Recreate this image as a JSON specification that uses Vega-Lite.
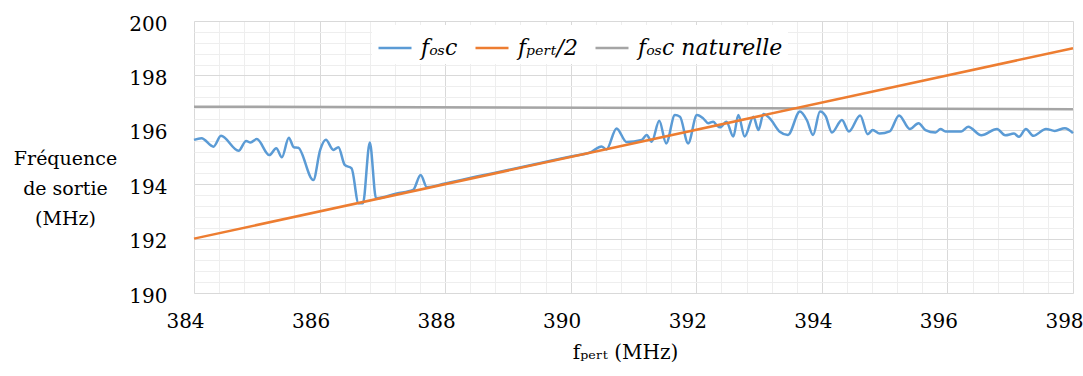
{
  "$schema": "https://vega.github.io/schema/vega-lite/v6.json",
  "width": 879,
  "height": 272,
  "autosize": {"type": "none"},
  "padding": {"left": 194, "top": 21, "right": 10, "bottom": 83},
  "background": "white",
  "config": {"view": {"stroke": "#d9d9d9", "strokeWidth": 1}, "font": "DejaVu Serif", "text": {"font": "DejaVu Serif"}, "axis": {"labelFont": "DejaVu Serif", "titleFont": "DejaVu Serif"}, "legend": {"labelFont": "DejaVu Serif"}},
  "datasets": {
    "lines": [
      {"s": "fₒₛc naturelle", "f": 384, "v": 196.85},
      {"s": "fₒₛc naturelle", "f": 398, "v": 196.76},
      {"s": "fₚₑᵣₜ/2", "f": 384, "v": 192},
      {"s": "fₚₑᵣₜ/2", "f": 398, "v": 199},
      {"s": "fₒₛc", "f": 384.00, "v": 195.63},
      {"s": "fₒₛc", "f": 384.12, "v": 195.69},
      {"s": "fₒₛc", "f": 384.31, "v": 195.38},
      {"s": "fₒₛc", "f": 384.43, "v": 195.78},
      {"s": "fₒₛc", "f": 384.71, "v": 195.23},
      {"s": "fₒₛc", "f": 384.83, "v": 195.59},
      {"s": "fₒₛc", "f": 384.90, "v": 195.53},
      {"s": "fₒₛc", "f": 385.00, "v": 195.66},
      {"s": "fₒₛc", "f": 385.20, "v": 195.07},
      {"s": "fₒₛc", "f": 385.31, "v": 195.32},
      {"s": "fₒₛc", "f": 385.40, "v": 194.99},
      {"s": "fₒₛc", "f": 385.51, "v": 195.71},
      {"s": "fₒₛc", "f": 385.59, "v": 195.36},
      {"s": "fₒₛc", "f": 385.66, "v": 195.34},
      {"s": "fₒₛc", "f": 385.90, "v": 194.15},
      {"s": "fₒₛc", "f": 386.01, "v": 195.26},
      {"s": "fₒₛc", "f": 386.10, "v": 195.63},
      {"s": "fₒₛc", "f": 386.22, "v": 195.26},
      {"s": "fₒₛc", "f": 386.30, "v": 195.36},
      {"s": "fₒₛc", "f": 386.40, "v": 194.71},
      {"s": "fₒₛc", "f": 386.51, "v": 194.58},
      {"s": "fₒₛc", "f": 386.62, "v": 193.30},
      {"s": "fₒₛc", "f": 386.69, "v": 193.30},
      {"s": "fₒₛc", "f": 386.80, "v": 195.53},
      {"s": "fₒₛc", "f": 386.90, "v": 193.48},
      {"s": "fₒₛc", "f": 387.23, "v": 193.66},
      {"s": "fₒₛc", "f": 387.49, "v": 193.79},
      {"s": "fₒₛc", "f": 387.61, "v": 194.34},
      {"s": "fₒₛc", "f": 387.71, "v": 193.89},
      {"s": "fₒₛc", "f": 388.00, "v": 194.03},
      {"s": "fₒₛc", "f": 388.50, "v": 194.28},
      {"s": "fₒₛc", "f": 389.00, "v": 194.52},
      {"s": "fₒₛc", "f": 389.50, "v": 194.77},
      {"s": "fₒₛc", "f": 390.00, "v": 195.02},
      {"s": "fₒₛc", "f": 390.33, "v": 195.19},
      {"s": "fₒₛc", "f": 390.49, "v": 195.39},
      {"s": "fₒₛc", "f": 390.57, "v": 195.28},
      {"s": "fₒₛc", "f": 390.73, "v": 196.05},
      {"s": "fₒₛc", "f": 390.89, "v": 195.55},
      {"s": "fₒₛc", "f": 391.13, "v": 195.63},
      {"s": "fₒₛc", "f": 391.21, "v": 195.81},
      {"s": "fₒₛc", "f": 391.29, "v": 195.56},
      {"s": "fₒₛc", "f": 391.41, "v": 196.33},
      {"s": "fₒₛc", "f": 391.52, "v": 195.50},
      {"s": "fₒₛc", "f": 391.66, "v": 196.54},
      {"s": "fₒₛc", "f": 391.74, "v": 196.48},
      {"s": "fₒₛc", "f": 391.87, "v": 195.50},
      {"s": "fₒₛc", "f": 392.01, "v": 196.54},
      {"s": "fₒₛc", "f": 392.11, "v": 196.42},
      {"s": "fₒₛc", "f": 392.19, "v": 196.24},
      {"s": "fₒₛc", "f": 392.27, "v": 196.30},
      {"s": "fₒₛc", "f": 392.32, "v": 196.18},
      {"s": "fₒₛc", "f": 392.38, "v": 196.09},
      {"s": "fₒₛc", "f": 392.48, "v": 196.30},
      {"s": "fₒₛc", "f": 392.59, "v": 195.75},
      {"s": "fₒₛc", "f": 392.67, "v": 196.54},
      {"s": "fₒₛc", "f": 392.77, "v": 195.75},
      {"s": "fₒₛc", "f": 392.91, "v": 196.48},
      {"s": "fₒₛc", "f": 392.99, "v": 195.99},
      {"s": "fₒₛc", "f": 393.07, "v": 196.58},
      {"s": "fₒₛc", "f": 393.17, "v": 196.42},
      {"s": "fₒₛc", "f": 393.33, "v": 195.93},
      {"s": "fₒₛc", "f": 393.46, "v": 195.81},
      {"s": "fₒₛc", "f": 393.65, "v": 196.67},
      {"s": "fₒₛc", "f": 393.76, "v": 196.36},
      {"s": "fₒₛc", "f": 393.86, "v": 195.81},
      {"s": "fₒₛc", "f": 393.97, "v": 196.67},
      {"s": "fₒₛc", "f": 394.06, "v": 196.50},
      {"s": "fₒₛc", "f": 394.16, "v": 195.90},
      {"s": "fₒₛc", "f": 394.32, "v": 196.36},
      {"s": "fₒₛc", "f": 394.43, "v": 195.94},
      {"s": "fₒₛc", "f": 394.61, "v": 196.53},
      {"s": "fₒₛc", "f": 394.73, "v": 195.84},
      {"s": "fₒₛc", "f": 394.81, "v": 195.99},
      {"s": "fₒₛc", "f": 394.92, "v": 195.86},
      {"s": "fₒₛc", "f": 395.08, "v": 195.94},
      {"s": "fₒₛc", "f": 395.23, "v": 196.53},
      {"s": "fₒₛc", "f": 395.40, "v": 196.03},
      {"s": "fₒₛc", "f": 395.54, "v": 196.24},
      {"s": "fₒₛc", "f": 395.65, "v": 195.99},
      {"s": "fₒₛc", "f": 395.81, "v": 195.90},
      {"s": "fₒₛc", "f": 395.89, "v": 196.03},
      {"s": "fₒₛc", "f": 395.97, "v": 195.94},
      {"s": "fₒₛc", "f": 396.22, "v": 195.94},
      {"s": "fₒₛc", "f": 396.33, "v": 196.11},
      {"s": "fₒₛc", "f": 396.54, "v": 195.80},
      {"s": "fₒₛc", "f": 396.79, "v": 196.03},
      {"s": "fₒₛc", "f": 396.92, "v": 195.80},
      {"s": "fₒₛc", "f": 397.06, "v": 195.86},
      {"s": "fₒₛc", "f": 397.14, "v": 195.74},
      {"s": "fₒₛc", "f": 397.25, "v": 196.03},
      {"s": "fₒₛc", "f": 397.37, "v": 195.78},
      {"s": "fₒₛc", "f": 397.57, "v": 196.03},
      {"s": "fₒₛc", "f": 397.71, "v": 195.96},
      {"s": "fₒₛc", "f": 397.87, "v": 196.06},
      {"s": "fₒₛc", "f": 398.00, "v": 195.88}
    ]
  },
  "data": {"name": "lines"},
  "encoding": {
    "color": {
      "field": "s",
      "type": "nominal",
      "scale": {"domain": ["fₒₛc", "fₚₑᵣₜ/2", "fₒₛc naturelle"], "range": ["#5B9BD5", "#ED7D31", "#A5A5A5"]},
      "legend": {
        "orient": "none",
        "legendX": 178,
        "legendY": 4,
        "direction": "horizontal",
        "title": null,
        "symbolType": "stroke",
        "symbolStrokeWidth": 2.5,
        "symbolSize": 1089,
        "labelFont": "DejaVu Serif",
        "labelFontSize": 22,
        "labelFontStyle": "italic",
        "labelColor": "black",
        "labelOffset": 8,
        "labelLimit": 400,
        "fillColor": "white",
        "padding": 5,
        "columnPadding": 12
      }
    }
  },
  "layer": [
    {
      "transform": [{"filter": "datum.s === 'fₒₛc naturelle'"}],
      "mark": {"type": "line", "strokeWidth": 2.5},
      "encoding": {
        "x": {"field": "f", "type": "quantitative", "scale": {"domain": [384, 398], "nice": false, "zero": false},
          "axis": {"orient": "top", "values": [384, 384.4, 384.8, 385.2, 385.6, 386, 386.4, 386.8, 387.2, 387.6, 388, 388.4, 388.8, 389.2, 389.6, 390, 390.4, 390.8, 391.2, 391.6, 392, 392.4, 392.8, 393.2, 393.6, 394, 394.4, 394.8, 395.2, 395.6, 396, 396.4, 396.8, 397.2, 397.6, 398],
            "grid": true, "gridColor": "#eeeeee", "gridWidth": 1, "labels": false, "ticks": false, "domain": false, "title": null}},
        "y": {"field": "v", "type": "quantitative", "scale": {"domain": [190, 200], "nice": false, "zero": false},
          "axis": {"orient": "right", "values": [190, 190.4, 190.8, 191.2, 191.6, 192, 192.4, 192.8, 193.2, 193.6, 194, 194.4, 194.8, 195.2, 195.6, 196, 196.4, 196.8, 197.2, 197.6, 198, 198.4, 198.8, 199.2, 199.6, 200],
            "grid": true, "gridColor": "#eeeeee", "gridWidth": 1, "labels": false, "ticks": false, "domain": false, "title": null}}
      }
    },
    {
      "transform": [{"filter": "datum.s === 'fₒₛc'"}],
      "mark": {"type": "line", "strokeWidth": 2.5, "interpolate": "monotone"},
      "encoding": {
        "x": {"field": "f", "type": "quantitative", "scale": {"domain": [384, 398], "nice": false, "zero": false},
          "axis": {"orient": "bottom", "values": [384, 386, 388, 390, 392, 394, 396, 398], "grid": true, "gridColor": "#d9d9d9", "gridWidth": 1,
            "domain": false, "ticks": false, "labelFont": "DejaVu Serif", "labelFontSize": 20, "labelColor": "black", "labelPadding": 18, "labelOffset": -9, "labelFlush": false,
            "title": "fₚₑᵣₜ (MHz)", "titleFont": "DejaVu Serif", "titleFontSize": 20, "titleFontWeight": "normal", "titleColor": "black", "titlePadding": 11, "titleX": 431}},
        "y": {"field": "v", "type": "quantitative", "scale": {"domain": [190, 200], "nice": false, "zero": false},
          "axis": {"orient": "left", "values": [190, 192, 194, 196, 198, 200], "grid": true, "gridColor": "#d9d9d9", "gridWidth": 1,
            "domain": false, "ticks": false, "labelFont": "DejaVu Serif", "labelFontSize": 20, "labelColor": "black", "labelPadding": 27, "labelOffset": 3, "labelFlush": false,
            "title": ["Fréquence", "de sortie", "(MHz)"], "titleAngle": 0, "titleAlign": "center", "titleBaseline": "middle", "titleX": -129, "titleY": 137, "titleLineHeight": 30,
            "titleFont": "DejaVu Serif", "titleFontSize": 19, "titleFontWeight": "normal", "titleColor": "black"}}
      }
    },
    {
      "transform": [{"filter": "datum.s === 'fₚₑᵣₜ/2'"}],
      "mark": {"type": "line", "strokeWidth": 2.5},
      "encoding": {
        "x": {"field": "f", "type": "quantitative", "scale": {"domain": [384, 398], "nice": false, "zero": false}, "axis": null},
        "y": {"field": "v", "type": "quantitative", "scale": {"domain": [190, 200], "nice": false, "zero": false}, "axis": null}
      }
    }
  ],
  "resolve": {"axis": {"x": "independent", "y": "independent"}}
}
